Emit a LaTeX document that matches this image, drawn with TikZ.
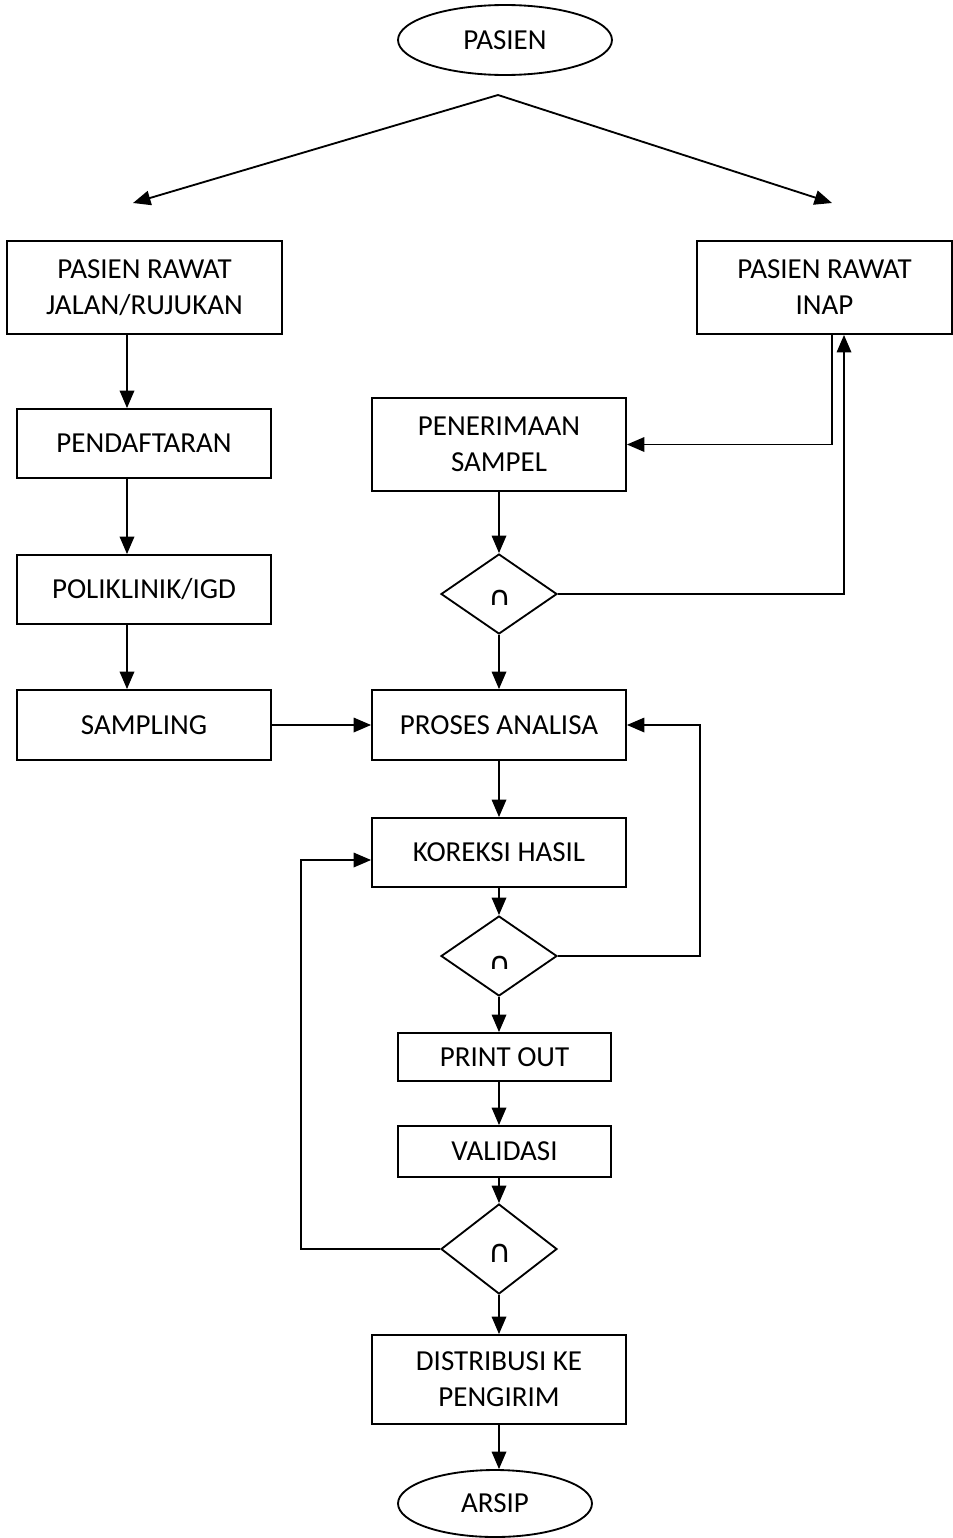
\documentclass[tikz,border=0pt]{standalone}
\usepackage{fontspec}
\setmainfont{Carlito}
\newfontfamily\symfont{DejaVu Sans}
\usetikzlibrary{shapes.geometric,arrows.meta}
\begin{document}
\begin{tikzpicture}[x=0.02cm,y=-0.02cm, line width=1.05pt,
  txt/.style={font=\fontsize{16.5}{20.4}\selectfont},
  box/.style={draw, rectangle, inner sep=0pt, align=center, txt},
  term/.style={draw, ellipse, inner sep=0pt, txt},
  dec/.style={draw, diamond, inner sep=0pt, minimum width=2.32cm, minimum height=1.6cm},
  arr/.style={-{Triangle[length=0.35cm,width=0.29cm]}},
  symb/.style={font=\symfont\fontsize{18}{18}\selectfont, inner sep=0pt, anchor=base}]
\useasboundingbox (0,0) rectangle (953,1538);

% nodes
\node[term, minimum width=4.28cm, minimum height=1.4cm] (pasien) at (505,40) {PASIEN};
\node[box, minimum width=5.5cm, minimum height=1.86cm] (pjr) at (144.5,287.5) {PASIEN RAWAT\\JALAN/RUJUKAN};
\node[box, minimum width=5.1cm, minimum height=1.86cm] (inap) at (824.5,287.5) {PASIEN RAWAT\\INAP};
\node[box, minimum width=5.08cm, minimum height=1.38cm] (pend) at (144,443.5) {PENDAFTARAN};
\node[box, minimum width=5.08cm, minimum height=1.38cm] (poli) at (144,589.5) {POLIKLINIK/IGD};
\node[box, minimum width=5.08cm, minimum height=1.4cm] (samp) at (144,725) {SAMPLING};
\node[box, minimum width=5.08cm, minimum height=1.86cm] (pener) at (499,444.5) {PENERIMAAN\\SAMPEL};
\node[dec] (d1) at (499,594) {};
\node[box, minimum width=5.08cm, minimum height=1.4cm] (proses) at (499,725) {PROSES ANALISA};
\node[box, minimum width=5.08cm, minimum height=1.38cm] (koreksi) at (499,852.5) {KOREKSI HASIL};
\node[dec] (d2) at (499,956) {};
\node[box, minimum width=4.26cm, minimum height=0.96cm] (print) at (504.5,1057) {PRINT OUT};
\node[box, minimum width=4.26cm, minimum height=1.02cm] (valid) at (504.5,1151.5) {VALIDASI};
\node[dec, minimum height=1.8cm] (d3) at (499,1249) {};
\node[box, minimum width=5.08cm, minimum height=1.78cm] (dist) at (499,1379.5) {DISTRIBUSI KE\\PENGIRIM};
\node[term, minimum width=3.88cm, minimum height=1.34cm] (arsip) at (495,1503.5) {ARSIP};

% clipped symbols in decisions
\begin{scope}
  \clip (470,580) rectangle (530,604);
  \node[symb] (s1) at (500,608) {∩};
\end{scope}
\begin{scope}
  \clip (470,940) rectangle (530,968);
  \node[symb] (s2) at (500,974) {∩};
\end{scope}
\begin{scope}
  \clip (470,1235) rectangle (530,1262);
  \node[symb] (s3) at (500,1262) {∩};
\end{scope}

% helper coordinates
\coordinate (apex) at (498,95);
\coordinate (tl) at (133,203);
\coordinate (tr) at (832,203);
\coordinate (cL) at (127,0);
\coordinate (x832) at (832,0);
\coordinate (x844) at (844,0);
\coordinate (x700) at (700,0);
\coordinate (x301) at (301,0);
\coordinate (y860) at (0,860);

% connectors
\draw[arr] (apex) -- (tl);
\draw[arr] (apex) -- (tr);
\draw[arr] (pjr.south -| cL) -- (pend.north -| cL);
\draw[arr] (pend.south -| cL) -- (poli.north -| cL);
\draw[arr] (poli.south -| cL) -- (samp.north -| cL);
\draw[arr] (samp.east) -- (proses.west);
\draw[arr] (inap.south -| x832) |- (pener.east);
\draw[arr] (pener.south) -- (d1.north);
\draw[arr] (d1.east) -- (x844 |- d1.east) -- (inap.south -| x844);
\draw[arr] (d1.south) -- (proses.north);
\draw[arr] (proses.south) -- (koreksi.north);
\draw[arr] (koreksi.south) -- (d2.north);
\draw[arr] (d2.east) -- (x700 |- d2.east) -- (x700 |- proses.east) -- (proses.east);
\draw[arr] (d2.south) -- (print.north -| d2.south);
\draw[arr] (print.south -| d2.south) -- (valid.north -| d2.south);
\draw[arr] (valid.south -| d2.south) -- (d3.north);
\draw[arr] (d3.west) -- (x301 |- d3.west) -- (x301 |- y860) -- (koreksi.west |- y860);
\draw[arr] (d3.south) -- (dist.north);
\draw[arr] (dist.south) -- (arsip.north -| dist.south);
\end{tikzpicture}
\end{document}
